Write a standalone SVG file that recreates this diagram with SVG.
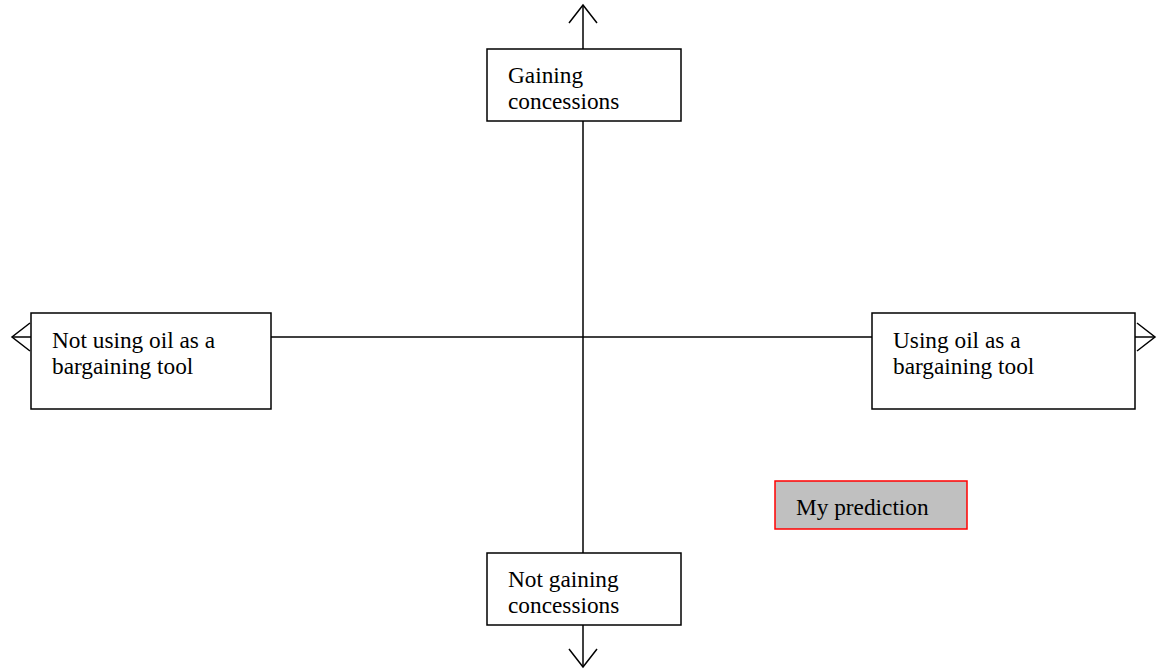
<svg xmlns="http://www.w3.org/2000/svg" width="1159" height="669" viewBox="0 0 1159 669">
  <style>
    .box { fill: #ffffff; stroke: #000000; stroke-width: 1.5; }
    .pred { fill: #c0c0c0; stroke: #ff0000; stroke-width: 1.5; }
    .axis { fill: none; stroke: #000000; stroke-width: 1.5; }
    .head { fill: none; stroke: #000000; stroke-width: 1.5; stroke-linejoin: miter; }
    text { font-family: "Liberation Serif", "Times New Roman", serif; font-size: 23.3px; fill: #000000; }
  </style>
  <rect width="1159" height="669" fill="#ffffff"/>

  <!-- axes with open arrowheads -->
  <g id="connectors">
    <line class="axis" x1="583" y1="5" x2="583" y2="667"/>
    <line class="axis" x1="12" y1="337" x2="1155" y2="337"/>
    <polyline class="head" points="569,23 583,5 597,23"/>
    <polyline class="head" points="569,649 583,667 597,649"/>
    <polyline class="head" points="30,323 12,337 30,351"/>
    <polyline class="head" points="1137,323 1155,337 1137,351"/>
  </g>

  <g id="top">
    <rect class="box" x="487" y="49" width="194" height="72"/>
    <text x="508" y="83">Gaining</text>
    <text x="508" y="109">concessions</text>
  </g>

  <g id="bottom">
    <rect class="box" x="487" y="553" width="194" height="72"/>
    <text x="508" y="587">Not gaining</text>
    <text x="508" y="613">concessions</text>
  </g>

  <g id="left">
    <rect class="box" x="31" y="313" width="240" height="96"/>
    <text x="52" y="348">Not using oil as a</text>
    <text x="52" y="374">bargaining tool</text>
  </g>

  <g id="right">
    <rect class="box" x="872" y="313" width="263" height="96"/>
    <text x="893" y="348">Using oil as a</text>
    <text x="893" y="374">bargaining tool</text>
  </g>

  <g id="prediction">
    <rect class="pred" x="775" y="481" width="192" height="48"/>
    <text x="796" y="515">My prediction</text>
  </g>
</svg>
